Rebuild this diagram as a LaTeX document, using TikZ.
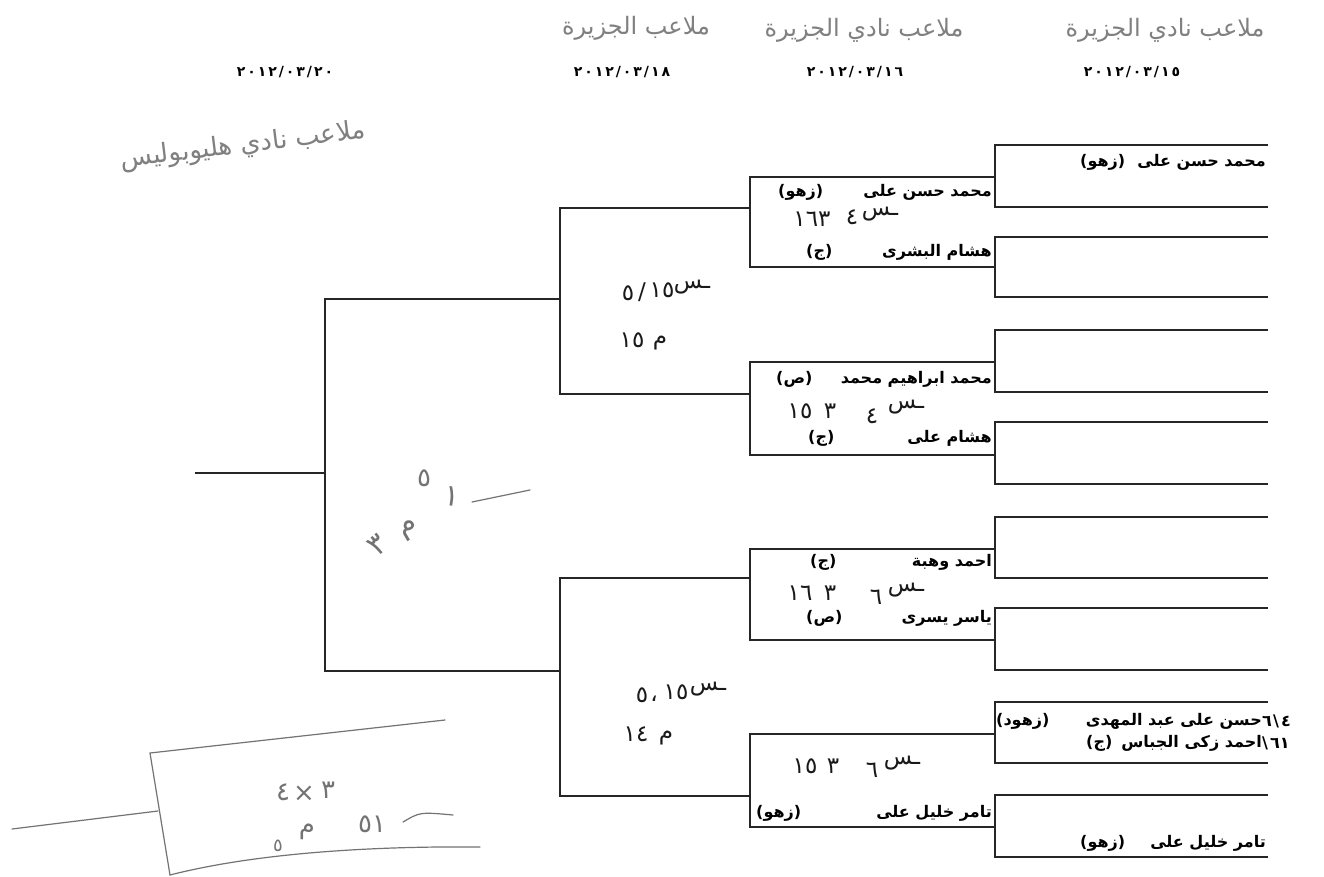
\documentclass[tikz,border=0pt]{standalone}
\usepackage{fontspec}
\TeXXeTstate=1
\newfontfamily\ar[Script=Arabic]{DejaVu Sans}
\newfontfamily\ardt[Script=Arabic,LetterSpace=14]{DejaVu Sans Bold}
\newcommand\nmfont{\ar\bfseries\fontsize{16}{18}\selectfont}
\newcommand\dtfont{\ardt\fontsize{14}{16}\selectfont}
\newcommand\inkfont{\ar\fontsize{23}{26}\selectfont}
\newcommand\hwfont{\ar\fontsize{26}{30}\selectfont}
\newcommand\hwbig{\ar\fontsize{24}{28}\selectfont}
\tikzset{
  br/.style={line width=1.6pt, draw=black!85},
  nm/.style={font=\nmfont, inner sep=0pt, anchor=east},
  pr/.style={font=\nmfont, inner sep=0pt, anchor=west},
  dt/.style={font=\dtfont, inner sep=0pt},
  ink/.style={font=\inkfont, text=black!90, inner sep=0pt},
  hw/.style={font=\hwfont, text=black!55, inner sep=0pt},
  hwb/.style={font=\hwbig, text=black!50, inner sep=0pt},
  hwl/.style={draw=black!55, line width=1.2pt, line cap=round},
  sc/.style={font=\nmfont, inner sep=0pt, anchor=west},
}
\begin{document}
\begin{tikzpicture}[x=1pt,y=-1pt]
\useasboundingbox (0,0) rectangle (1324,877);
\fill[white] (0,0) rectangle (1324,877);

% ---------- bracket ----------
\foreach \t/\b in {145/207,237/297,330/392,422/484,517/578,608/670,702/763,795/857}
  {\draw[br] (1268,\t) -- (995,\t) -- (995,\b) -- (1268,\b);}
\foreach \t/\b in {177/267,362/455,549/640,734/827}
  {\draw[br] (995,\t) -- (750,\t) -- (750,\b) -- (995,\b);}
\foreach \t/\b in {208/394,578/796}
  {\draw[br] (750,\t) -- (560,\t) -- (560,\b) -- (750,\b);}
\coordinate (f1) at (560,299);
\coordinate (f2) at (325,299);
\coordinate (f3) at (325,671);
\coordinate (f4) at (560,671);
\draw[br] (f1) -- (f2) -- (f3) -- (f4);
\coordinate (w1) at (325,473);
\coordinate (w2) at (195,473);
\draw[br] (w1) -- (w2);

% ---------- dates ----------
\node[dt] (d1) at (285,72) {٢٠١٢/٠٣/٢٠};
\node[dt] (d2) at (622,72) {٢٠١٢/٠٣/١٨};
\node[dt] (d3) at (855,72) {٢٠١٢/٠٣/١٦};
\node[dt] (d4) at (1132,72) {٢٠١٢/٠٣/١٥};

% ---------- handwritten venues ----------
\node[hwb] (v1) at (636,28) {\beginR ملاعب الجزيرة\endR};
\node[hwb] (v2) at (864,30) {\beginR ملاعب نادي الجزيرة\endR};
\node[hwb] (v3) at (1165,30) {\beginR ملاعب نادي الجزيرة\endR};
\node[hwb, rotate=7, font=\ar\fontsize{26}{30}\selectfont] (v4) at (243,146) {\beginR ملاعب نادي هليوبوليس\endR};

% ---------- round 1 names ----------
\node[nm] (a1) at (1266,162) {\beginR محمد حسن على\endR};
\node[pr] (a1p) at (1080,162) {(زهو)};
\node[nm] (a7) at (1262,721) {\beginR حسن على عبد المهدى\endR};
\node[pr] (a7p) at (996,721) {(زهود)};
\node[sc] (a7s1) at (1262,721) {٦};
\node[sc] (a7s2) at (1273,721) {\textbackslash};
\node[sc] (a7s3) at (1281,721) {٤};
\node[nm] (a8) at (1262,743) {\beginR احمد زكى الجباس\endR};
\node[pr] (a8p) at (1086,743) {(ج)};
\node[sc] (a8s1) at (1262,743) {\textbackslash};
\node[sc] (a8s2) at (1270,743) {٦١};
\node[nm] (a9) at (1266,843) {\beginR تامر خليل على\endR};
\node[pr] (a9p) at (1080,843) {(زهو)};

% ---------- round 2 names ----------
\node[nm] (b1) at (992,192) {\beginR محمد حسن على\endR};
\node[pr] (b1p) at (778,192) {(زهو)};
\node[nm] (b2) at (992,252) {\beginR هشام البشرى\endR};
\node[pr] (b2p) at (806,252) {(ج)};
\node[nm] (b3) at (992,379) {\beginR محمد ابراهيم محمد\endR};
\node[pr] (b3p) at (776,379) {(ص)};
\node[nm] (b4) at (992,438) {\beginR هشام على\endR};
\node[pr] (b4p) at (808,438) {(ج)};
\node[nm] (b5) at (992,562) {\beginR احمد وهبة\endR};
\node[pr] (b5p) at (810,562) {(ج)};
\node[nm] (b6) at (992,618) {\beginR ياسر يسرى\endR};
\node[pr] (b6p) at (806,618) {(ص)};
\node[nm] (b8) at (992,813) {\beginR تامر خليل على\endR};
\node[pr] (b8p) at (756,813) {(زهو)};

% ---------- round 2 handwritten (ink) ----------
\node[ink] (h1a) at (812,219) {١٦٣};
\node[ink] (h1b) at (852,217) {٤};
\node[ink] (h1c) at (880,214) {ـس};
\node[ink] (h2a) at (800,411) {١٥};
\node[ink] (h2b) at (830,411) {٣};
\node[ink] (h2c) at (872,416) {٤};
\node[ink] (h2d) at (906,407) {ـس};
\node[ink] (h3a) at (800,593) {١٦};
\node[ink] (h3b) at (830,593) {٣};
\node[ink] (h3c) at (876,597) {٦};
\node[ink] (h3d) at (906,590) {ـس};
\node[ink] (h4a) at (805,766) {١٥};
\node[ink] (h4b) at (833,766) {٣};
\node[ink] (h4c) at (872,770) {٦};
\node[ink] (h4d) at (902,763) {ـس};

% ---------- round 3 handwritten (ink) ----------
\node[ink] (g1a) at (628,293) {٥};
\node[ink] (g1b) at (642,292) {/};
\node[ink] (g1c) at (662,290) {١٥};
\node[ink] (g1d) at (692,287) {ـس};
\node[ink] (g1e) at (632,340) {١٥};
\node[ink] (g1f) at (660,343) {م};
\node[ink] (g2a) at (642,695) {٥};
\node[ink] (g2b) at (654,699) {،};
\node[ink] (g2c) at (676,692) {١٥};
\node[ink] (g2d) at (708,689) {ـس};
\node[ink] (g2e) at (636,734) {١٤};
\node[ink] (g2f) at (666,738) {م};

% ---------- round 4 handwritten (pencil) ----------
\node[hw, rotate=40, font=\ar\fontsize{30}{34}\selectfont] (k1) at (378,545) {٣};
\node[hw, rotate=30, font=\ar\fontsize{30}{34}\selectfont] (k2) at (410,530) {م};
\node[hw] (k3) at (424,478) {٥};
\node[hw, rotate=-10, font=\ar\fontsize{30}{34}\selectfont] (k4) at (452,497) {١};
\coordinate (k5) at (472,502);
\coordinate (k6) at (530,490);
\draw[hwl] (k5) -- (k6);

% ---------- bottom-left handwritten box (pencil) ----------
\coordinate (m1) at (12,829);
\coordinate (m2) at (158,811);
\coordinate (m3) at (150,753);
\coordinate (m4) at (445,720);
\coordinate (m5) at (170,875);
\coordinate (m6) at (480,847);
\draw[hwl] (m1) -- (m2);
\draw[hwl] (m4) -- (m3) -- (m5) .. controls (260,852) and (380,846) .. (m6);
\node[hw] (q1a) at (283,792) {٤};
\node[hw] (q1b) at (304,794) {×};
\node[hw] (q1c) at (328,790) {٣};
\node[hw, font=\ar\fontsize{18}{22}\selectfont] (q2) at (278,846) {٥};
\node[hw] (q3) at (307,832) {م};
\node[hw] (q4) at (372,824) {٥١};
\coordinate (q5) at (403,822);
\coordinate (q6) at (453,815);
\draw[hwl] (q5) .. controls (420,812) .. (q6);
\end{tikzpicture}
\end{document}
